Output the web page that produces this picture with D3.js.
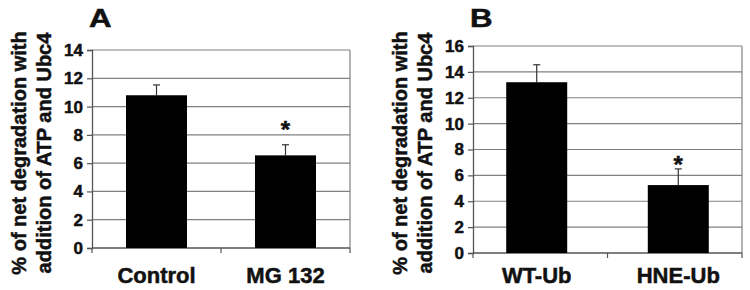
<!DOCTYPE html>
<html>
<head>
<meta charset="utf-8">
<script src="https://cdn.jsdelivr.net/npm/d3@7"></script>
<style>
  body { margin: 0; background: #fff; }
  svg { display: block; font-family: "Liberation Sans", Arial, sans-serif; font-weight: bold; }
  svg text { stroke: #111; stroke-width: 0.5px; }
</style>
</head>
<body>
<svg id="chart" width="750" height="290"></svg>
<script>
// panel A
const catsA = ["Control", "MG 132"];
const valsA = [10.8, 6.55];
const errsA = [0.73, 0.75];
const ticksA = [0, 2, 4, 6, 8, 10, 12, 14];
const starA = [null, 8.6];   // y value of the significance asterisk

// panel B
const catsB = ["WT-Ub", "HNE-Ub"];
const valsB = [13.2, 5.25];
const errsB = [1.35, 1.25];
const ticksB = [0, 2, 4, 6, 8, 10, 12, 14, 16];
const starB = [null, 7.1];

const yLabel = ["% of net degradation with", "addition of ATP and Ubc4"];

const svg = d3.select("#chart");

function drawPanel(opt) {
  const { cats, vals, errs, ticks, stars, title, x0, x1, y0, y1, pad, labelX } = opt;
  const g = svg.append("g");

  const x = d3.scalePoint().domain(cats).range([x0, x1]).padding(pad);
  const y = d3.scaleLinear().domain([0, d3.max(ticks)]).range([y1, y0]);

  // gridlines
  g.selectAll(".grid")
    .data(ticks.filter(t => t > 0))
    .enter().append("line")
    .attr("x1", x0).attr("x2", x1)
    .attr("y1", d => y(d)).attr("y2", d => y(d))
    .attr("stroke", "#808080").attr("stroke-width", 1.2);

  // right border
  g.append("line")
    .attr("x1", x1).attr("x2", x1).attr("y1", y0).attr("y2", y1)
    .attr("stroke", "#808080").attr("stroke-width", 1.2);

  // y axis
  const yAxis = d3.axisLeft(y).tickValues(ticks).tickSize(5).tickPadding(4);
  const ya = g.append("g").attr("transform", `translate(${x0},0)`).call(yAxis);
  ya.select(".domain").attr("stroke", "#555").attr("stroke-width", 1.3);
  ya.selectAll(".tick line").attr("stroke", "#555").attr("stroke-width", 1.2);
  ya.selectAll(".tick text")
    .attr("fill", "#111")
    .style("font-size", "17px")
    .style("font-weight", "bold")
    .style("font-family", "Liberation Sans, Arial, sans-serif");

  // x axis line and ticks (left, middle, right)
  g.append("line")
    .attr("x1", x0).attr("x2", x1).attr("y1", y1).attr("y2", y1)
    .attr("stroke", "#555").attr("stroke-width", 1.3);
  g.selectAll(".xtick")
    .data([x0, (x0 + x1) / 2, x1])
    .enter().append("line")
    .attr("x1", d => d).attr("x2", d => d)
    .attr("y1", y1).attr("y2", y1 + 5)
    .attr("stroke", "#555").attr("stroke-width", 1.2);

  const barW = 61;

  // error bars (upper only)
  const data = cats.map((c, i) => ({ c, v: vals[i], e: errs[i], s: stars[i] }));
  g.selectAll(".err")
    .data(data)
    .enter().append("line")
    .attr("x1", d => x(d.c)).attr("x2", d => x(d.c))
    .attr("y1", d => y(d.v)).attr("y2", d => y(d.v + d.e))
    .attr("stroke", "#333").attr("stroke-width", 1.2);
  g.selectAll(".cap")
    .data(data)
    .enter().append("line")
    .attr("x1", d => x(d.c) - 3.5).attr("x2", d => x(d.c) + 3.5)
    .attr("y1", d => y(d.v + d.e)).attr("y2", d => y(d.v + d.e))
    .attr("stroke", "#333").attr("stroke-width", 1.2);

  // bars
  g.selectAll(".bar")
    .data(data)
    .enter().append("rect")
    .attr("x", d => x(d.c) - barW / 2)
    .attr("width", barW)
    .attr("y", d => y(d.v))
    .attr("height", d => y(0) - y(d.v))
    .attr("fill", "#000");

  // asterisks
  g.selectAll(".star")
    .data(data.filter(d => d.s != null))
    .enter().append("text")
    .attr("x", d => x(d.c))
    .attr("y", d => y(d.s) + 12)
    .attr("text-anchor", "middle")
    .attr("fill", "#111")
    .style("font-size", "24px")
    .text("*");

  // category labels
  g.selectAll(".cat")
    .data(cats)
    .enter().append("text")
    .attr("x", d => x(d))
    .attr("y", 283)
    .attr("text-anchor", "middle")
    .attr("fill", "#111")
    .style("font-size", "22px")
    .text(d => d);

  // panel letter
  g.append("text")
    .attr("transform", `translate(${x0 - 3},27) scale(1.25,1)`)
    .attr("fill", "#111")
    .style("font-size", "25px")
    .text(title);

  // y label, two rotated lines
  const cy = 153;
  yLabel.forEach((line, i) => {
    g.append("text")
      .attr("transform", `translate(${labelX + i * 25},${cy}) rotate(-90)`)
      .attr("text-anchor", "middle")
      .attr("fill", "#111")
      .style("font-size", "20px")
      .text(line);
  });
}

drawPanel({ cats: catsA, vals: valsA, errs: errsA, ticks: ticksA, stars: starA, title: "A",
  x0: 92, x1: 350, y0: 50, y1: 248, pad: 0.5, labelX: 26 });
drawPanel({ cats: catsB, vals: valsB, errs: errsB, ticks: ticksB, stars: starB, title: "B",
  x0: 473, x1: 742, y0: 46, y1: 253, pad: 0.45, labelX: 407 });
</script>
</body>
</html>
